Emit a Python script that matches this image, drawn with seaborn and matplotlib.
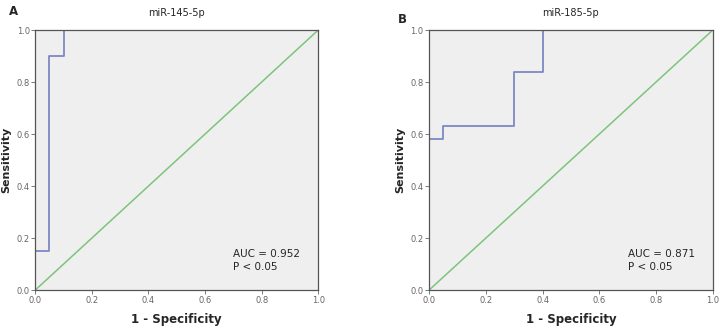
import numpy as np
import matplotlib
matplotlib.use("Agg")
import matplotlib.pyplot as plt
import pandas as pd
import seaborn as sns

# ROC step coordinates
fpr_145 = [0.0, 0.0, 0.05, 0.05, 0.10, 0.10, 1.0]
tpr_145 = [0.0, 0.15, 0.15, 0.90, 0.90, 1.0, 1.0]
fpr_185 = [0.0, 0.0, 0.05, 0.05, 0.30, 0.30, 0.40, 0.40, 1.0]
tpr_185 = [0.0, 0.58, 0.58, 0.63, 0.63, 0.84, 0.84, 1.0, 1.0]
ref_line = [0.0, 1.0]
panels = ["A", "B"]
titles = ["miR-145-5p", "miR-185-5p"]
auc_vals = ["0.952", "0.871"]
ticks = [0.0, 0.2, 0.4, 0.6, 0.8, 1.0]

sns.set_style("white")
plt.rcParams['font.family'] = ['DejaVu Sans']

fig = plt.figure(figsize=(7.2, 3.3), dpi=100)
axes = [fig.add_axes([0.049, 0.121, 0.393, 0.788]),
        fig.add_axes([0.596, 0.121, 0.394, 0.788])]

curves = [(fpr_145, tpr_145), (fpr_185, tpr_185)]
for i, ax in enumerate(axes):
    fpr, tpr = curves[i]
    df = pd.DataFrame({'fpr': fpr, 'tpr': tpr})
    ref = pd.DataFrame({'x': ref_line, 'y': ref_line})
    ax.set_facecolor('#efefef')
    sns.lineplot(data=ref, x='x', y='y', ax=ax, color='#7cc47c', lw=1.1,
                 sort=False, estimator=None)
    sns.lineplot(data=df, x='fpr', y='tpr', ax=ax, color='#7d88c2', lw=1.3,
                 sort=False, estimator=None)
    ax.set_xlim(0, 1)
    ax.set_ylim(0, 1)
    ax.set_xticks(ticks)
    ax.set_yticks(ticks)
    ax.set_xticklabels([f"{t:.1f}" for t in ticks])
    ax.set_yticklabels([f"{t:.1f}" for t in ticks])
    ax.tick_params(axis='both', labelsize=6, colors='#666666', length=3,
                   direction='out', width=0.6, pad=1)
    ax.tick_params(axis='both', bottom=True, left=True)
    for s in ax.spines.values():
        s.set_color('#555555')
        s.set_linewidth(0.9)
    ax.set_xlabel('1 - Specificity', fontsize=8.5, fontweight='bold', labelpad=6)
    ax.set_ylabel('Sensitivity', fontsize=8, fontweight='bold', labelpad=4)
    ax.set_title(titles[i], fontsize=7, pad=10)
    ax.text(0.70, 0.115, f"AUC = {auc_vals[i]}\nP < 0.05", transform=ax.transAxes,
            fontsize=7.5, va='center', ha='left', linespacing=1.4)

fig.text(0.012, 0.985, panels[0], fontsize=8.5, fontweight='bold', va='top')
fig.text(0.553, 0.96, panels[1], fontsize=8.5, fontweight='bold', va='top')

fig.savefig("out.png", dpi=100)
